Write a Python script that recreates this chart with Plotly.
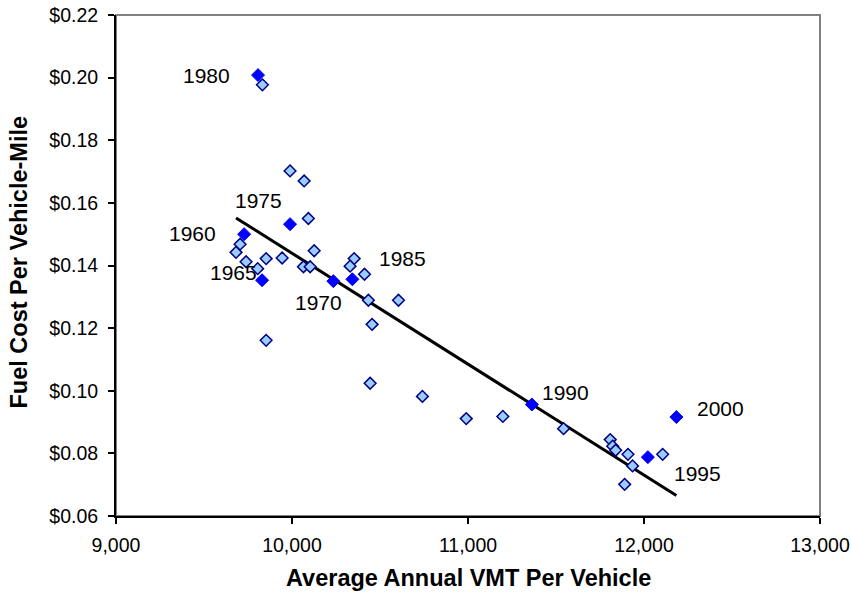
import numpy as np
import plotly.graph_objects as go

# Light (all years) points
vmt = [9832, 9989, 10069, 10093, 9705, 9682, 9739, 9805, 9853, 9944, 10126, 10065,
       10103, 10353, 10330, 10412, 10434, 10605, 10455, 9853, 10741, 10444, 10990,
       11198, 11543, 11808, 11822, 11839, 11909, 11935, 11890, 12106]
cost = [0.1977, 0.1702, 0.1670, 0.1550, 0.1468, 0.1442, 0.1412, 0.1390, 0.1422, 0.1424,
        0.1447, 0.1396, 0.1396, 0.1422, 0.1398, 0.1372, 0.1289, 0.1289, 0.1212, 0.1161,
        0.0982, 0.1024, 0.0911, 0.0918, 0.0879, 0.0844, 0.0823, 0.0810, 0.0797, 0.0760,
        0.0701, 0.0797]

# Highlighted five-year points
years = ["1960", "1965", "1970", "1975", "1980", "1985", "1990", "1995", "2000"]
yr_vmt = [9728, 9830, 10235, 9989, 9807, 10343, 11363, 12022, 12184]
yr_cost = [0.1500, 0.1353, 0.1350, 0.1532, 0.2008, 0.1356, 0.0956, 0.0788, 0.0916]
label_dx = [-52, -29, -15, -32, -52, 50, 34, 50, 44]
label_dy = [-1, -8, 21, -24, 0, -21, -12, 16, -9]

x_title = "Average Annual VMT Per Vehicle"
y_title = "Fuel Cost Per Vehicle-Mile"

all_x = np.array(vmt + yr_vmt, dtype=float)
fit_x = np.array(vmt, dtype=float)
fit_y = np.array(cost, dtype=float)
slope, intercept = np.polyfit(fit_x, fit_y, 1)
tx = np.array([all_x.min(), all_x.max()])
ty = slope * tx + intercept

FONT = "Liberation Sans, Arial, sans-serif"

fig = go.Figure()
fig.add_trace(go.Scatter(x=tx, y=ty, mode="lines",
                         line=dict(color="black", width=3), showlegend=False, hoverinfo="skip"))
fig.add_trace(go.Scatter(x=vmt, y=cost, mode="markers",
                         marker=dict(symbol="diamond", size=9, color="#99CCFF",
                                     line=dict(color="#000080", width=1.5)),
                         showlegend=False))
fig.add_trace(go.Scatter(x=yr_vmt, y=yr_cost, mode="markers",
                         marker=dict(symbol="diamond", size=10, color="#0000FF",
                                     line=dict(color="#0000FF", width=1)),
                         showlegend=False))

for yr, x, y, dx, dy in zip(years, yr_vmt, yr_cost, label_dx, label_dy):
    fig.add_annotation(x=x, y=y, text=yr, showarrow=False, xshift=dx, yshift=-dy,
                       font=dict(family=FONT, size=21, color="black"))

# axis titles
fig.add_annotation(xref="paper", yref="paper", x=0.5, y=0, yshift=-62,
                   xanchor="center", yanchor="middle", showarrow=False,
                   text="<b>" + x_title + "</b>", font=dict(family=FONT, size=23.5, color="black"))
fig.add_annotation(xref="paper", yref="paper", x=0, y=0.5, xshift=-98, yshift=3,
                   xanchor="center", yanchor="middle", showarrow=False, textangle=-90,
                   text="<b>" + y_title + "</b>", font=dict(family=FONT, size=23.5, color="black"))

fig.add_shape(type="rect", xref="paper", yref="paper", x0=0, y0=0, x1=1, y1=1,
              line=dict(color="#808080", width=2), layer="below")

fig.update_layout(
    width=852, height=592,
    margin=dict(l=116, r=32, t=15, b=76),
    paper_bgcolor="white", plot_bgcolor="white",
    font=dict(family=FONT, size=19.5, color="black"),
    xaxis=dict(range=[9000, 13000], tickvals=[9000, 10000, 11000, 12000, 13000],
               tickformat=",d", showgrid=False, zeroline=False, automargin=False,
               showline=True, linecolor="black", linewidth=2,
               ticks="outside", ticklen=6, tickwidth=1.5, tickcolor="black",
               ticklabelstandoff=5),
    yaxis=dict(range=[0.06, 0.22], dtick=0.02, tickformat="$.2f",
               showgrid=False, zeroline=False, automargin=False,
               showline=True, linecolor="black", linewidth=2,
               ticks="outside", ticklen=6, tickwidth=1.5, tickcolor="black",
               ticklabelstandoff=6),
)

fig.write_html("out.html", config={"displayModeBar": False},
               post_script="document.body.style.margin='0';document.body.style.overflow='hidden';")
